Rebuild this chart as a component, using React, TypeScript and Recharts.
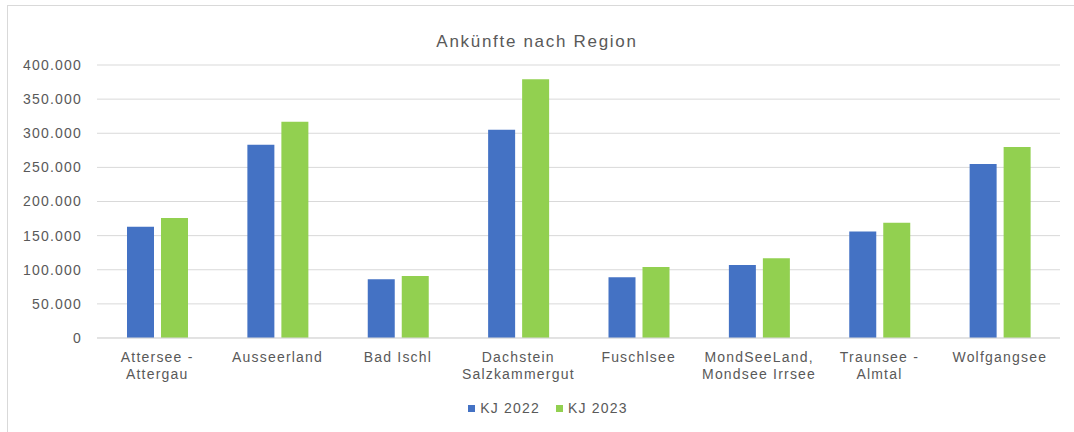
import { BarChart, Bar, XAxis, YAxis, CartesianGrid, Legend } from 'recharts';

const regions = [
  'Attersee -\nAttergau',
  'Ausseerland',
  'Bad Ischl',
  'Dachstein\nSalzkammergut',
  'Fuschlsee',
  'MondSeeLand,\nMondsee Irrsee',
  'Traunsee -\nAlmtal',
  'Wolfgangsee',
];
const kj2022 = [163000, 283000, 86000, 305000, 89000, 107000, 156000, 255000];
const kj2023 = [176000, 317000, 91000, 379000, 104000, 117000, 169000, 280000];
const yTicks = [0, 50000, 100000, 150000, 200000, 250000, 300000, 350000, 400000];

const BLUE = '#4472C4';
const GREEN = '#92D050';
const TEXT = '#595959';
const FONT = '"Liberation Sans", Arial, sans-serif';

const data = regions.map((region, i) => ({ region, kj2022: kj2022[i], kj2023: kj2023[i] }));

const formatNum = (v: number) => (v === 0 ? '0' : v.toLocaleString('de-DE'));

const RegionTick = ({ x, y, payload }: any) => {
  const lines = String(payload.value).split('\n');
  return (
    <text x={x} y={y} textAnchor="middle" fill={TEXT} fontSize={14} fontFamily={FONT} letterSpacing={1.2}>
      {lines.map((line, i) => (
        <tspan key={i} x={x} dy={i === 0 ? 16 : 17}>
          {line}
        </tspan>
      ))}
    </text>
  );
};

const LegendContent = () => (
  <div
    style={{
      display: 'flex',
      justifyContent: 'center',
      gap: 16,
      paddingLeft: 36,
      paddingTop: 12,
      fontFamily: FONT,
      fontSize: 14,
      letterSpacing: 1.2,
      color: TEXT,
    }}
  >
    {[
      ['KJ 2022', BLUE],
      ['KJ 2023', GREEN],
    ].map(([label, color]) => (
      <span key={label} style={{ display: 'flex', alignItems: 'center' }}>
        <span style={{ width: 7, height: 7, background: color, marginRight: 5, display: 'inline-block' }} />
        {label}
      </span>
    ))}
  </div>
);

export default function App() {
  return (
    <div style={{ position: 'absolute', left: 0, top: 0, width: 1074, height: 432, overflow: 'hidden', background: '#fff' }}>
      <div
        style={{
          position: 'absolute',
          left: 7,
          top: 5,
          width: 1080,
          height: 440,
          border: '1px solid #d9d9d9',
          boxSizing: 'border-box',
        }}
      />
      <div
        style={{
          position: 'absolute',
          left: 0,
          top: 32,
          width: 1074,
          textAlign: 'center',
          fontFamily: FONT,
          fontSize: 17,
          letterSpacing: 1.7,
          color: TEXT,
        }}
      >
        Ankünfte nach Region
      </div>
      <div style={{ position: 'absolute', left: 0, top: 0 }}>
        <BarChart
          width={1074}
          height={432}
          data={data}
          margin={{ top: 65, right: 14, left: 0, bottom: 20 }}
          barSize={27}
          barGap={7}
        >
          <CartesianGrid vertical={false} stroke="#d9d9d9" strokeWidth={1} />
          <XAxis
            dataKey="region"
            axisLine={{ stroke: '#d9d9d9' }}
            tickLine={false}
            interval={0}
            height={50}
            tick={<RegionTick />}
          />
          <YAxis
            width={97}
            domain={[0, 400000]}
            ticks={yTicks}
            axisLine={false}
            tickLine={false}
            tickMargin={9}
            tickFormatter={formatNum}
            tick={{ fill: TEXT, fontSize: 14, fontFamily: FONT, letterSpacing: 1.2 }}
          />
          <Legend verticalAlign="bottom" height={24} content={<LegendContent />} />
          <Bar dataKey="kj2022" name="KJ 2022" fill={BLUE} isAnimationActive={false} />
          <Bar dataKey="kj2023" name="KJ 2023" fill={GREEN} isAnimationActive={false} />
        </BarChart>
      </div>
    </div>
  );
}
